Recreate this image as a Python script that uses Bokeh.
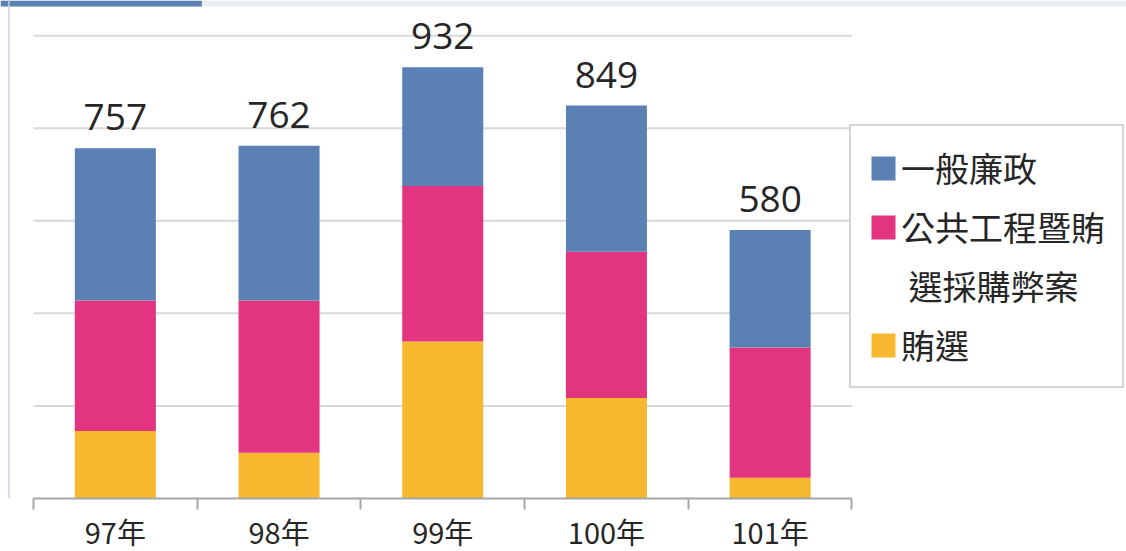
from bokeh.plotting import figure
from bokeh.models import (ColumnDataSource, FixedTicker, Range1d, LabelSet, Legend,
                          LegendItem, BoxAnnotation, Span)
from bokeh.core.properties import value
from bokeh.embed import file_html
from bokeh.resources import INLINE

# ---- data ----
years = ["97年", "98年", "99年", "100年", "101年"]
general = [329, 334, 257, 316, 254]          # 一般廉政
public_works = [282, 329, 336, 316, 281]     # 公共工程暨賄選採購弊案
vote_buying = [146, 99, 339, 217, 45]        # 賄選
totals = [757, 762, 932, 849, 580]
grid_ticks = [200, 400, 600, 800, 1000]

series_keys = ["vote_buying", "public_works", "general"]
series_labels = {"general": ["一般廉政"],
                 "public_works": ["公共工程暨賄", "\u00a0選採購弊案"],
                 "vote_buying": ["賄選"]}
colors = {"general": "#5b80b4", "public_works": "#e3357f", "vote_buying": "#f6b82e"}

n = len(years)
xs = [i + 0.5 for i in range(n)]
src = ColumnDataSource(dict(x=xs, general=general, public_works=public_works,
                            vote_buying=vote_buying, total=totals,
                            total_txt=[str(t) for t in totals]))

X0, X1 = -0.2016, 6.677
Y1 = 1076
p = figure(width=1126, height=554, x_range=Range1d(X0, X1), y_range=Range1d(0, Y1),
           output_backend="svg", toolbar_location=None,
           min_border_left=0, min_border_right=0, min_border_top=0, min_border_bottom=40)
p.styles = {"margin-bottom": "-3px"}
p.outline_line_color = None
p.background_fill_color = "white"
p.border_fill_color = "white"

# horizontal grid lines spanning only the category area
p.segment(x0=0, x1=n, y0=grid_ticks, y1=grid_ticks, line_color="#d9d9d9",
          line_width=2, level="underlay")

renderers = p.vbar_stack(series_keys, x="x", width=0.495, source=src,
                         color=[colors[k] for k in series_keys], line_color=None)
rmap = dict(zip(series_keys, renderers))
# invisible renderer for the wrapped second legend line
blank = p.scatter(x=[], y=[], marker="square", fill_alpha=0, line_alpha=0)

p.yaxis.visible = False
p.xgrid.visible = False
p.ygrid.visible = False

xa = p.xaxis[0]
xa.bounds = (0, n)
xa.ticker = FixedTicker(ticks=xs, minor_ticks=list(range(n + 1)))
xa.major_label_overrides = {x: y for x, y in zip(xs, years)}
xa.major_tick_line_color = None
xa.major_tick_out = 0
xa.major_tick_in = 0
xa.minor_tick_in = 0
xa.minor_tick_out = 11
xa.minor_tick_line_color = "#a6a6a6"
xa.minor_tick_line_width = 2
xa.axis_line_color = "#a6a6a6"
xa.axis_line_width = 2
xa.major_label_text_font = "Noto Sans CJK TC"
xa.major_label_text_font_size = "29px"
xa.major_label_text_color = "#262626"
xa.major_label_standoff = 0

labels = LabelSet(x="x", y="total", text="total_txt", source=src, y_offset=18,
                  text_align="center", text_baseline="alphabetic",
                  text_font=value("Open Sans"), text_font_size=value("37px"),
                  text_color="#262626")
p.add_layout(labels)

items = []
for k in ["general", "public_works", "vote_buying"]:
    lines = series_labels[k]
    items.append(LegendItem(label=lines[0], renderers=[rmap[k]]))
    for extra in lines[1:]:
        items.append(LegendItem(label=extra, renderers=[blank]))

legend = Legend(items=items, location=(849, 110), orientation="vertical",
                label_text_font="Noto Sans CJK TC", label_text_font_size="34px",
                label_text_color="#262626",
                glyph_width=30, glyph_height=30, label_standoff=3, spacing=10,
                padding=17, margin=0, border_line_color="#ababab", border_line_width=2.5,
                background_fill_color="white", background_fill_alpha=1.0)
p.add_layout(legend, "center")

# decorations: top tab strip and left rule
p.add_layout(BoxAnnotation(bottom=Y1 - 13, fill_color="#e9edf1", fill_alpha=1, line_color=None))
p.add_layout(BoxAnnotation(bottom=Y1 - 13, right=X0 + 1.23, fill_color="#5b80b4",
                           fill_alpha=1, line_color=None))
p.add_layout(Span(location=X0 + 0.052, dimension="height", line_color="#c8d0e2", line_width=1.5))

open("out.html", "w").write(file_html(p, INLINE))
